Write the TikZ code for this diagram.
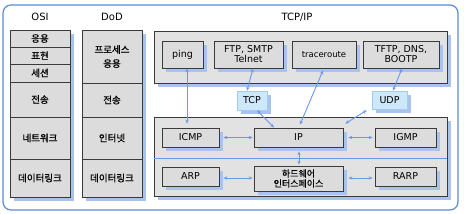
\documentclass[tikz,border=0pt]{standalone}
\usepackage{fontspec}
\setmainfont{DejaVu Sans}
\newfontfamily\kr[FakeBold=0.8]{Noto Sans CJK KR}
\usetikzlibrary{arrows.meta,shadows,calc}
\definecolor{boxfill}{HTML}{DCDCDC}
\definecolor{bigfill}{HTML}{E2E2E2}
\definecolor{boxline}{HTML}{3A3A3A}
\definecolor{shadowblue}{HTML}{A8C4EE}
\definecolor{arrowblue}{HTML}{6A98EE}
\definecolor{frameblue}{HTML}{5B8AD6}
\definecolor{protofill}{HTML}{CDE7FB}
\definecolor{protoline}{HTML}{A3CDEE}
\tikzset{
  shad/.style={drop shadow={shadow xshift=3.5pt,shadow yshift=-3.5pt,fill=shadowblue,opacity=1}},
  cell/.style={draw=boxline,fill=boxfill,line width=0.7pt,inner sep=0pt,align=center,shad,
     font=\kr\fontsize{9.5}{14}\selectfont},
  lbox/.style={cell,font=\fontsize{9.5}{10}\selectfont},
  bigbox/.style={draw=boxline,fill=bigfill,line width=0.7pt,inner sep=0pt,shad},
  proto/.style={draw=protoline,fill=protofill,line width=0.6pt,inner sep=0pt,shad,
     font=\fontsize{9.5}{10}\selectfont},
  head/.style={font=\fontsize{10}{12}\selectfont,inner sep=0pt},
  arr/.style={draw=arrowblue,line width=0.9pt,{Stealth[length=4pt,width=3.4pt]}-{Stealth[length=4pt,width=3.4pt]}}
}
\begin{document}
\begin{tikzpicture}[x=1pt,y=-1pt]
\useasboundingbox (0,0) rectangle (464,214);
\draw[frameblue,line width=1.2pt,rounded corners=8pt] (3,5) rectangle (458,210);
% headers
\node[head] (hosi) at (40,17) {OSI};
\node[head] (hdod) at (112,17) {DoD};
\node[head] (htcp) at (297,17) {TCP/IP};
% OSI column
\node[cell,minimum width=60pt,minimum height=17pt] (o1) at (40,38.5) {응용};
\node[cell,minimum width=60pt,minimum height=17pt] (o2) at (40,55.5) {표현};
\node[cell,minimum width=60pt,minimum height=18pt] (o3) at (40,73) {세션};
\node[cell,minimum width=60pt,minimum height=35pt] (o4) at (40,99.5) {전송};
\node[cell,minimum width=60pt,minimum height=42pt] (o5) at (40,138) {네트워크};
\node[cell,minimum width=60pt,minimum height=38pt] (o6) at (40,178) {데이터링크};
% DoD column
\node[cell,minimum width=60pt,minimum height=53pt] (d1) at (112,56.5) {프로세스\\응용};
\node[cell,minimum width=60pt,minimum height=34pt] (d2) at (112,100) {전송};
\node[cell,minimum width=60pt,minimum height=42pt] (d3) at (112,138) {인터넷};
\node[cell,minimum width=60pt,minimum height=38pt] (d4) at (112,178) {데이터링크};
% TCP/IP application box
\node[bigbox,minimum width=293pt,minimum height=52pt] (app) at (300.5,57) {};
\node[lbox,minimum width=41pt,minimum height=27pt] (ping) at (182.5,54.5) {ping};
\node[lbox,minimum width=69pt,minimum height=27pt] (ftp) at (248.5,54.5) {FTP, SMTP\\Telnet};
\node[lbox,minimum width=64pt,minimum height=27pt,font=\fontsize{8.5}{10}\selectfont] (trace) at (324,54.5) {traceroute};
\node[lbox,minimum width=76pt,minimum height=27pt] (tftp) at (401,54.5) {TFTP, DNS,\\BOOTP};
% transport
\node[proto,minimum width=30pt,minimum height=19pt] (tcp) at (252,100.5) {TCP};
\node[proto,minimum width=35pt,minimum height=18pt] (udp) at (389.5,100) {UDP};
% lower box
\node[bigbox,minimum width=293pt,minimum height=79pt] (low) at (300.5,156.5) {};
\draw[arrowblue,line width=0.9pt] ($(low.north west)!0.53!(low.south west)$) coordinate (divl)
   -- ($(low.north east)!0.53!(low.south east)$) coordinate (divr);
\node[lbox,minimum width=57pt,minimum height=19pt] (icmp) at (190.5,137.5) {ICMP};
\node[lbox,minimum width=89pt,minimum height=19pt] (ip) at (298.5,137.5) {IP};
\node[lbox,minimum width=61pt,minimum height=19pt] (igmp) at (405.5,137.5) {IGMP};
\node[lbox,minimum width=57pt,minimum height=19pt] (arp) at (190.5,176.5) {ARP};
\node[cell,minimum width=89pt,minimum height=25pt,font=\kr\fontsize{9}{10}\selectfont] (hw) at (298.5,178.5) {하드웨어\\인터스페이스};
\node[lbox,minimum width=61pt,minimum height=19pt] (rarp) at (405.5,176.5) {RARP};
% connectors
\draw[arr] ($(ping.south)+(4.5,0)$) -- ($(icmp.north)+(-3.5,-4)$);
\draw[arr] ($(ftp.south)+(4.5,0)$) -- ($(tcp.north)+(-5,0)$);
\draw[arr] ($(tcp.south)+(5,0)$) -- ($(ip.north)+(-24.5,0)$);
\draw[arr] ($(trace.south)+(-1,2)$) -- ($(ip.north)+(1.5,-3)$);
\draw[arr] ($(tftp.south)+(1,0)$) -- ($(udp.north)+(3.5,0)$);
\draw[arr] ($(udp.south west)+(-5,1)$) -- ($(ip.north east)+(2,-4)$);
\draw[arr] ($(icmp.east)+(4,0)$) -- ($(ip.west)+(-1,0)$);
\draw[arr] ($(ip.east)+(5,0)$) -- ($(igmp.west)+(-2,0)$);
\draw[arr] ($(ip.south)+(0.5,4)$) -- ($(hw.north)+(0.5,-1)$);
\draw[arr] ($(arp.east)+(4,1.5)$) -- ($(hw.west)+(-1,-0.5)$);
\draw[arr] ($(hw.east)+(5,-0.5)$) -- ($(rarp.west)+(-2,1.5)$);
\end{tikzpicture}
\end{document}
